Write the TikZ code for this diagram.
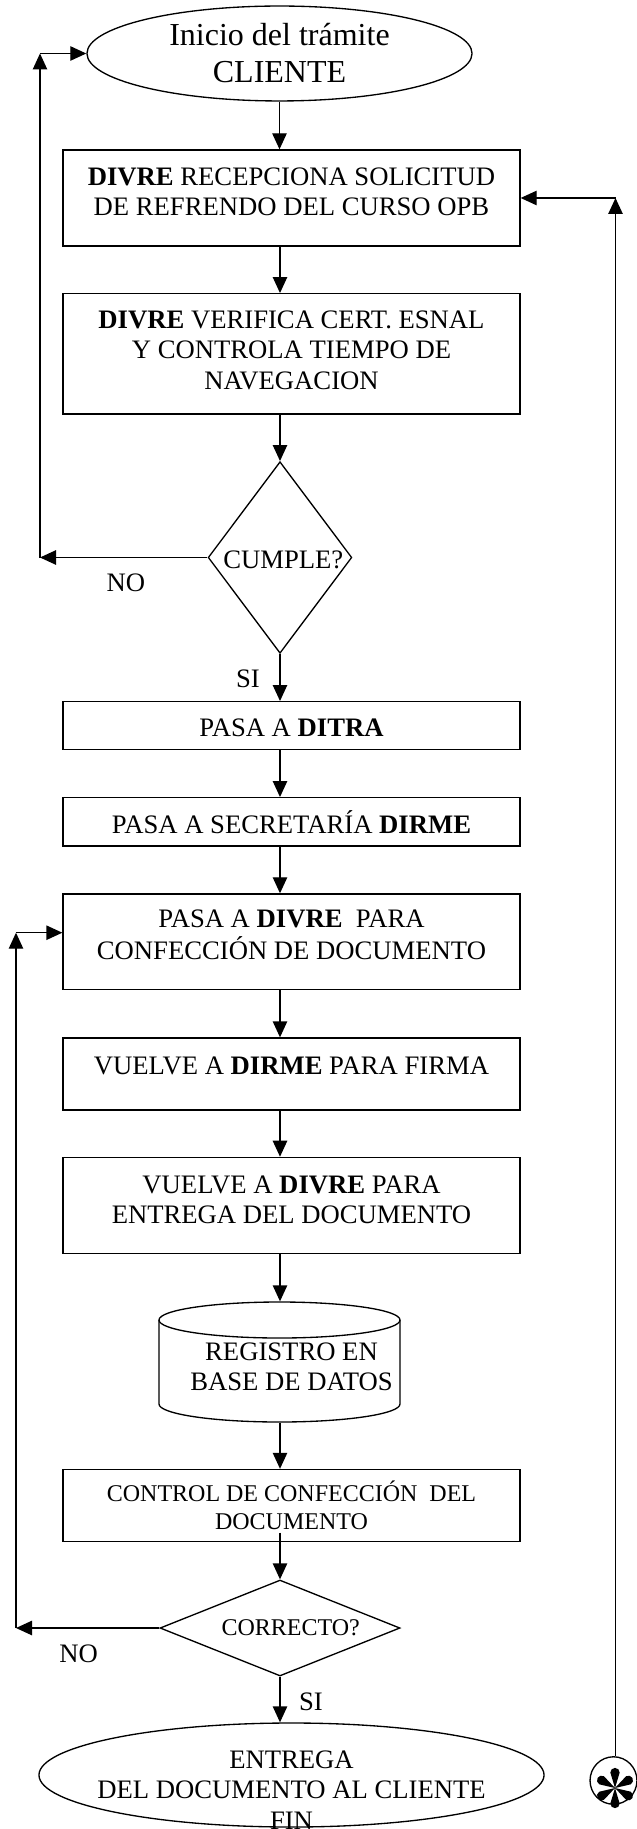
\documentclass[tikz,border=0pt]{standalone}
\usepackage{fontspec}
\setmainfont{Liberation Serif}
\usetikzlibrary{shapes.geometric,arrows.meta,calc}
\newcommand\bigf{\fontsize{12}{13.7}\selectfont}
\newcommand\normf{\fontsize{10}{11.4}\selectfont}
\newcommand\smallf{\fontsize{9}{10.35}\selectfont}
\newcommand\ml[1]{\begin{tabular}[t]{@{}c@{}}#1\end{tabular}}
\begin{document}
\begin{tikzpicture}[x=0.375pt,y=-0.375pt,line width=0.5pt,
  arr/.style={-{Triangle[length=6pt,width=5.4pt]}},
  box/.style={draw,rectangle,inner sep=0pt,minimum width=171.375pt},
  oval/.style={draw,ellipse,inner sep=0pt},
  rhomb/.style={draw,diamond,inner sep=0pt},
  txt/.style={inner sep=0pt,anchor=base,font=\normf}]
\useasboundingbox (0,0) rectangle (636,1829);

% shapes
\node[oval,minimum width=144.4pt,minimum height=35.6pt] (start) at (279.5,53.5) {};
\node[box,minimum height=36pt] (b1) at (291.5,198) {};
\node[box,minimum height=45.1pt] (b2) at (291.5,353.85) {};
\node[rhomb,minimum width=53.9pt,minimum height=71.85pt] (d1) at (280,557.5) {};
\node[box,minimum height=17.85pt] (b3) at (291.5,725.5) {};
\node[box,minimum height=18.1pt] (b4) at (291.5,821.85) {};
\node[box,minimum height=35.8pt] (b5) at (291.5,941.7) {};
\node[box,minimum height=27pt] (b6) at (291.5,1074) {};
\node[box,minimum height=36pt] (b7) at (291.5,1205.4) {};
\node[inner sep=0pt,minimum width=90.4pt,minimum height=45pt] (cyl) at (279.5,1362) {};
\draw (279.5,1320) ellipse [x radius=45.19pt,y radius=6.75pt];
\draw (159,1320) -- (159,1404) arc[start angle=180,end angle=360,x radius=45.19pt,y radius=6.75pt] -- (400,1320);
\node[box,minimum height=27.1pt] (b8) at (291.5,1505.6) {};
\node[rhomb,minimum width=90pt,minimum height=36pt] (d2) at (280,1628) {};
\node[oval,minimum width=189.4pt,minimum height=39pt] (fin) at (291.5,1775) {};
\node[oval,minimum width=17.6pt,minimum height=17.8pt] (ast) at (613.5,1780.5) {};
\begin{scope}[shift={(615,1788)}]
  \foreach \a in {30,90,150,210,270,330}
    \fill[rotate=\a] (0,0) -- (5.8pt,1.75pt) arc[start angle=90,end angle=-90,radius=1.75pt] -- cycle;
\end{scope}

% texts
\node[txt,font=\bigf] (tstart) at (279.5,45.7) {\ml{Inicio del trámite\\CLIENTE}};
\node[txt] (t1) at (291.5,185.3) {\ml{\textbf{DIVRE} RECEPCIONA SOLICITUD\\DE REFRENDO DEL CURSO OPB}};
\node[txt] (t2) at (291.5,328.3) {\ml{\textbf{DIVRE} VERIFICA CERT. ESNAL\\Y CONTROLA TIEMPO DE\\NAVEGACION}};
\node[txt] (tq1) at (283.3,568.3) {CUMPLE?};
\node[txt] (no1) at (126,591.7) {NO};
\node[txt] (si1) at (248,687.7) {SI};
\node[txt] (t3) at (291.5,736.7) {PASA A \textbf{DITRA}};
\node[txt] (t4) at (291.5,833.3) {PASA A SECRETARÍA \textbf{DIRME}};
\node[txt] (t5) at (291.5,927.3) {\ml{PASA A \textbf{DIVRE}~ PARA\\CONFECCIÓN DE DOCUMENTO}};
\node[txt] (t6) at (291.5,1074.3) {VUELVE A \textbf{DIRME} PARA FIRMA};
\node[txt] (t7) at (291.5,1193) {\ml{VUELVE A \textbf{DIVRE} PARA\\ENTREGA DEL DOCUMENTO}};
\node[txt] (tc) at (291.5,1360) {\ml{REGISTRO EN\\BASE DE DATOS}};
\node[txt,font=\smallf] (t8) at (291.5,1501.7) {\ml{CONTROL DE CONFECCIÓN~ DEL\\DOCUMENTO}};
\node[txt,font=\smallf] (tq2) at (290.7,1635) {CORRECTO?};
\node[txt] (no2) at (78.7,1662.7) {NO};
\node[txt] (si2) at (311,1710) {SI};
\node[txt] (tfin) at (291.5,1768.3) {\ml{ENTREGA\\DEL DOCUMENTO AL CLIENTE\\FIN}};

% main flow
\draw[arr] (start.south) -- (start.south |- b1.north);
\draw[arr] (d1.north |- b1.south) -- (d1.north |- b2.north);
\draw[arr] (d1.north |- b2.south) -- (d1.north);
\draw[arr] (d1.south) -- (d1.south |- b3.north);
\draw[arr] (d1.south |- b3.south) -- (d1.south |- b4.north);
\draw[arr] (d1.south |- b4.south) -- (d1.south |- b5.north);
\draw[arr] (d1.south |- b5.south) -- (d1.south |- b6.north);
\draw[arr] (d1.south |- b6.south) -- (d1.south |- b7.north);
\draw[arr] (d1.south |- b7.south) -- (d1.south |- cyl.north);
\draw[arr] (d1.south |- cyl.south) -- (d1.south |- b8.north);
\draw[arr] ($(d2.north |- b8.south)+(0,-9.7)$) -- (d2.north);
\draw[arr] (d2.south) -- (d2.south |- fin.north);

% loops
\coordinate (c1) at (40,557.5);
\coordinate (c2) at (40,53.5);
\draw[arr] (d1.west) -- (c1);
\draw[arr] (c1) -- (c2);
\draw[arr] (c2) -- (start.west);
\coordinate (c3) at (16,1628);
\coordinate (c4) at (16,932.7);
\draw[arr] (d2.west) -- (c3);
\draw[arr] (c3) -- (c4);
\draw[arr] (c4) -- (c4 -| b5.west);
\coordinate (c5) at (615.5,198);
\draw[arr] (c5 |- ast.north) -- (c5);
\draw[arr] (c5) -- (b1.east);
\end{tikzpicture}
\end{document}
